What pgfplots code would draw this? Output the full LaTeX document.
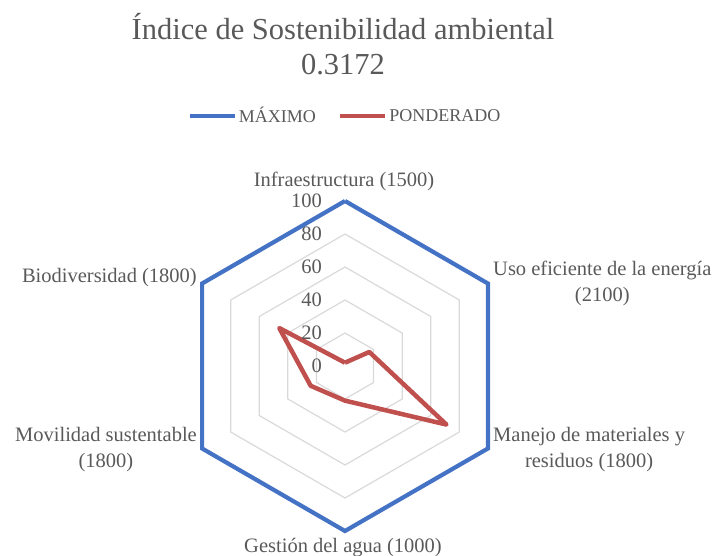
\documentclass[border=0pt]{standalone}
\usepackage{pgfplots}
\pgfplotsset{compat=1.18}
\usepgfplotslibrary{polar}
\usepackage{fontspec}
\setmainfont{Liberation Serif}
\definecolor{txt}{HTML}{595959}
\definecolor{gridc}{HTML}{D9D9D9}
\definecolor{maxc}{HTML}{4472C4}
\definecolor{ponc}{HTML}{C0504D}
\begin{document}
\begin{tikzpicture}[x=1pt,y=1pt]
\useasboundingbox (0,0) rectangle (714,556);
\node[anchor=base,text=txt,font=\fontsize{30.5}{36}\selectfont] at (343,516) {Índice de Sostenibilidad ambiental};
\node[anchor=base,text=txt,font=\fontsize{30.5}{36}\selectfont] at (343,481) {0.3172};
\begin{polaraxis}[
  at={(345pt,190pt)}, anchor=origin,
  scale only axis, width=330pt, height=330pt,
  hide axis, ymin=0, ymax=100, clip=false,
  legend columns=2,
  legend style={draw=none, fill=none, at={(0.5,1.258)}, anchor=center,
    font=\fontsize{18}{20}\selectfont, text=txt,
    /tikz/every even column/.append style={column sep=20pt},
    inner sep=0pt},
  legend image code/.code={\draw[#1] (0pt,0pt) -- (45pt,0pt);},
]
% grid hexagons
\addplot[gridc, line width=1.2pt, forget plot] coordinates {(90,20)(30,20)(-30,20)(-90,20)(-150,20)(150,20)(90,20)};
\addplot[gridc, line width=1.2pt, forget plot] coordinates {(90,40)(30,40)(-30,40)(-90,40)(-150,40)(150,40)(90,40)};
\addplot[gridc, line width=1.2pt, forget plot] coordinates {(90,60)(30,60)(-30,60)(-90,60)(-150,60)(150,60)(90,60)};
\addplot[gridc, line width=1.2pt, forget plot] coordinates {(90,80)(30,80)(-30,80)(-90,80)(-150,80)(150,80)(90,80)};
% series
\addplot[maxc, line width=4.2pt, line join=miter] coordinates {(90,100)(30,100)(-30,100)(-90,100)(-150,100)(150,100)(90,100)};
\addlegendentry{MÁXIMO}
\addplot[ponc, line width=4.5pt, line join=round] coordinates {(90,2)(30,17)(-30,71)(-90,21)(-150,24)(150,46)(90,2)};
\addlegendentry{PONDERADO}
% radial tick labels
\foreach \r in {0,20,40,60,80,100}{
  \edef\tmp{\noexpand\node[anchor=east,inner sep=0pt,text=txt,font=\noexpand\fontsize{20.5}{24}\noexpand\selectfont,xshift=-23pt] at (axis cs:90,\r) {\r};}
  \tmp
}
\end{polaraxis}
\begin{scope}[every node/.style={text=txt,inner sep=0pt,font=\fontsize{20.5}{26}\selectfont}]
\node[anchor=base] at (344,369) {Infraestructura (1500)};
\node[anchor=west,align=center] at (493,273) {Uso eficiente de la energía\\(2100)};
\node[anchor=west,align=center] at (493,106) {Manejo de materiales y\\residuos (1800)};
\node[anchor=base] at (343,3) {Gestión del agua (1000)};
\node[anchor=east,align=center] at (197,106) {Movilidad sustentable\\(1800)};
\node[anchor=east] at (197,278) {Biodiversidad (1800)};
\end{scope}
\end{tikzpicture}
\end{document}
